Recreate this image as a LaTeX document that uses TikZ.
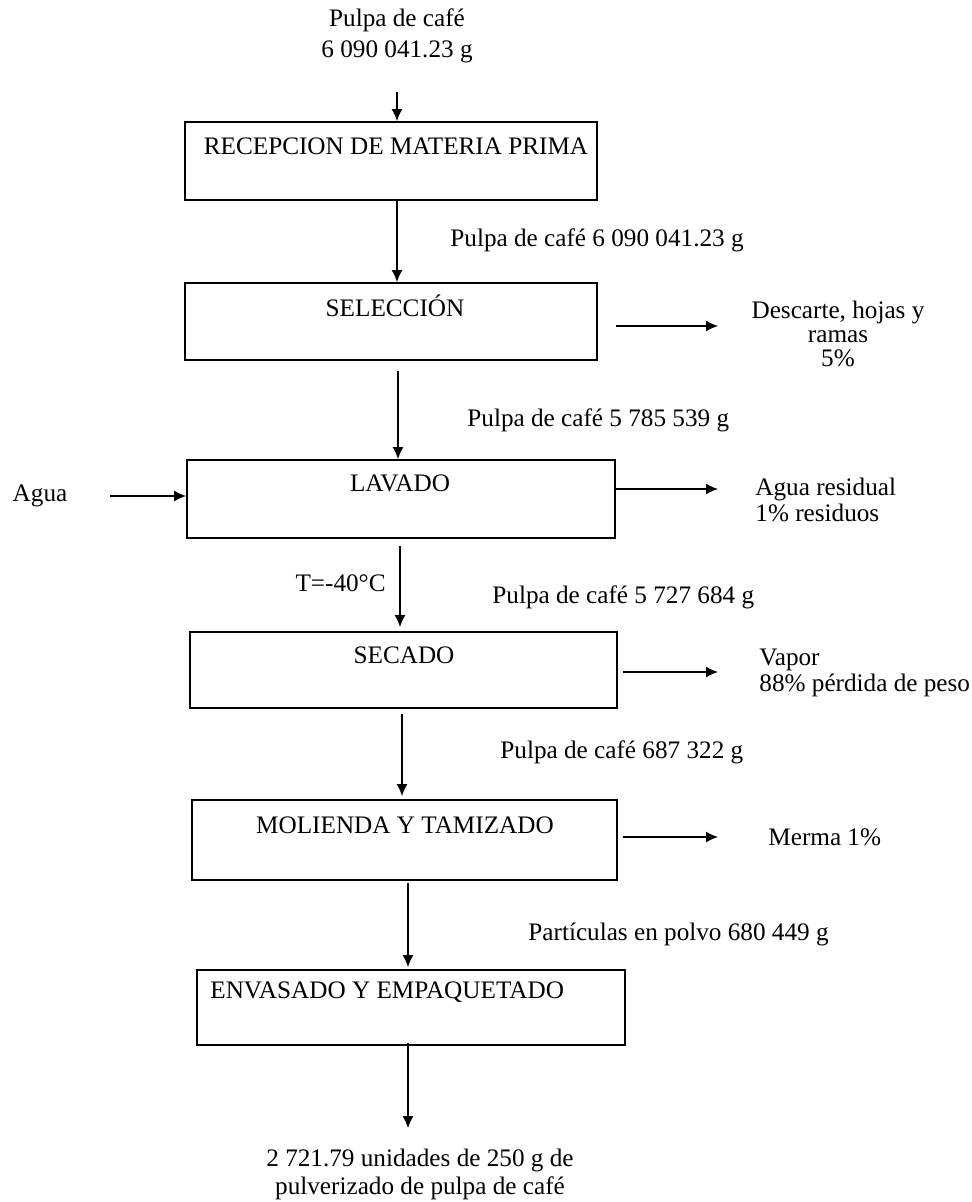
\documentclass[tikz,border=0pt]{standalone}
\usepackage{fontspec}
\setmainfont{Liberation Serif}
\usetikzlibrary{arrows.meta}
\begin{document}
\begin{tikzpicture}[x=0.5pt,y=-0.5pt,
  every node/.style={font=\fontsize{12.6}{13}\selectfont},
  stepbox/.style={draw, line width=0.9pt, inner sep=0pt},
  txt/.style={inner sep=0pt},
  arr/.style={line width=0.7pt, -{Latex[length=6pt,width=5.5pt]}}]
\useasboundingbox (0,0) rectangle (972,1202);

% process boxes
\node[stepbox, minimum width=206pt, minimum height=39pt]   (recep)  at (391,161)   {};
\node[stepbox, minimum width=206pt, minimum height=38.5pt] (selec)  at (391,321.5) {};
\node[stepbox, minimum width=214pt, minimum height=39pt]   (lavado) at (401,499)   {};
\node[stepbox, minimum width=213.5pt, minimum height=38pt] (secado) at (403.5,670) {};
\node[stepbox, minimum width=212.5pt, minimum height=40pt] (molie)  at (404.5,840) {};
\node[stepbox, minimum width=214pt, minimum height=37.5pt] (envas)  at (411,1007.5){};

% box titles
\node[txt] (recepT) at (396,146) {RECEPCION DE MATERIA PRIMA};
\node[txt] (selecT) at (395,306) {SELECCIÓN};
\node[txt] (lavT)   at (400,483) {LAVADO};
\node[txt] (secT)   at (404,655) {SECADO};
\node[txt] (molT)   at (405,825) {MOLIENDA Y TAMIZADO};
\node[txt, anchor=west] (envT) at (210,992) {ENVASADO Y EMPAQUETADO};

% stream labels
\node[txt, align=center, font=\fontsize{12.6}{15.5}\selectfont] (top) at (397,36) {Pulpa de café\\6 090 041.23 g};
\node[txt, anchor=west] (l1) at (450,240) {Pulpa de café 6 090 041.23 g};
\node[txt, anchor=west] (l2) at (467,420) {Pulpa de café 5 785 539 g};
\node[txt, anchor=east] (temp) at (386,583) {T=-40°C};
\node[txt, anchor=west] (l3) at (492,597) {Pulpa de café 5 727 684 g};
\node[txt, anchor=west] (l4) at (500,752) {Pulpa de café 687 322 g};
\node[txt, anchor=west] (l5) at (528,934) {Partículas en polvo 680 449 g};
\node[txt, align=center, font=\fontsize{12.6}{14}\selectfont] (final) at (420,1174) {2 721.79 unidades de 250 g de\\pulverizado de pulpa de café};

% side streams
\node[txt, align=center, font=\fontsize{12.6}{12}\selectfont] (desc) at (838,334) {Descarte, hojas y\\ramas\\5\%};
\node[txt] (agua) at (40,496) {Agua};
\node[txt, align=left, anchor=west] (aguares) at (755,500) {Agua residual\\1\% residuos};
\node[txt, align=left, anchor=west] (vapor) at (759,673) {Vapor\\88\% pérdida de peso};
\node[txt, anchor=west] (merma) at (768,837) {Merma 1\%};

\coordinate (o2) at (718,326);
\coordinate (o3) at (718,489);
\coordinate (o4) at (718,672);
\coordinate (o5) at (718,837);

% main flow
\draw[arr, shorten <=14.5pt] (top.south) -- (top.south |- recep.north);
\draw[arr] ([xshift=3pt]recep.south) -- ([xshift=3pt]recep.south |- selec.north);
\draw[arr, shorten <=5pt] ([xshift=3.5pt]selec.south) -- ([xshift=3.5pt]selec.south |- lavado.north);
\draw[arr, shorten <=3.5pt, shorten >=2pt] ([xshift=-0.5pt]lavado.south) -- ([xshift=-0.5pt]lavado.south |- secado.north);
\draw[arr, shorten <=2.5pt, shorten >=1.5pt] ([xshift=-0.75pt]secado.south) -- ([xshift=-0.75pt]secado.south |- molie.north);
\draw[arr, shorten <=1pt, shorten >=1pt] ([xshift=1.75pt]molie.south) -- ([xshift=1.75pt]molie.south |- envas.north);
\draw[arr, shorten <=-1.5pt, shorten >=10pt] ([xshift=-1.5pt]envas.south) -- ([xshift=-1.5pt]envas.south |- final.north);

% inputs and outputs
\draw[arr, shorten <=21pt] (agua.east) -- (lavado.west |- agua.east);
\draw[arr, shorten <=9pt] (selec.east |- o2) -- (o2);
\draw[arr] (lavado.east |- o3) -- (o3);
\draw[arr, shorten <=2.5pt] (secado.east |- o4) -- (o4);
\draw[arr, shorten <=2.5pt] (molie.east |- o5) -- (o5);
\end{tikzpicture}
\end{document}
